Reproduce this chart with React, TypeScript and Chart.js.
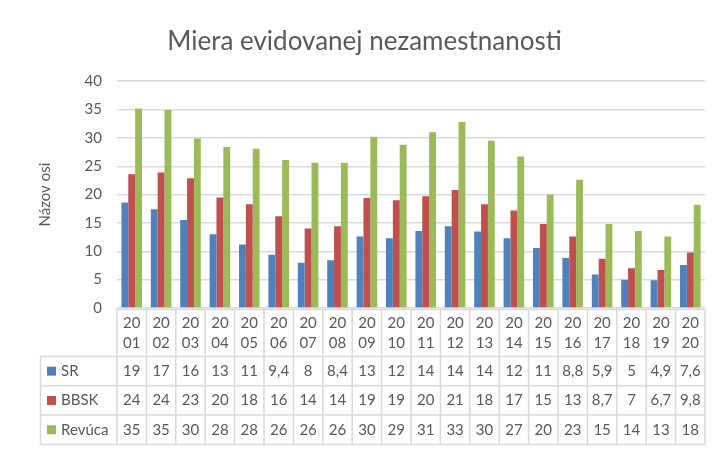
import React, { useEffect, useRef } from "react";
import { Chart, registerables } from "chart.js";

Chart.register(...registerables);

const chartTitle = "Miera evidovanej nezamestnanosti";
const yAxisTitle = "Názov osi";
const years = ["2001", "2002", "2003", "2004", "2005", "2006", "2007", "2008", "2009", "2010", "2011", "2012", "2013", "2014", "2015", "2016", "2017", "2018", "2019", "2020"];
const seriesNames = ["SR", "BBSK", "Revúca"];
const seriesColors = ["#4F81BD", "#C0504D", "#9BBB59"];
const srValues = [18.6, 17.4, 15.5, 13.0, 11.2, 9.4, 8.0, 8.4, 12.6, 12.3, 13.6, 14.4, 13.5, 12.3, 10.6, 8.8, 5.9, 5.0, 4.9, 7.6];
const bbskValues = [23.6, 23.9, 22.9, 19.5, 18.3, 16.2, 14.0, 14.4, 19.4, 19.0, 19.7, 20.8, 18.3, 17.2, 14.8, 12.6, 8.7, 7.0, 6.7, 9.8];
const revucaValues = [35.2, 34.9, 29.9, 28.4, 28.1, 26.1, 25.6, 25.6, 30.2, 28.8, 31.0, 32.8, 29.5, 26.7, 20.0, 22.6, 14.8, 13.6, 12.6, 18.2];
const yTicks = [0, 5, 10, 15, 20, 25, 30, 35, 40];

const FONT = "Lato";
const TEXT = "#595959";
const GRID = "#d9d9d9";

const allSeries = [srValues, bbskValues, revucaValues];

function fmt(v: number): string {
  if (v >= 10) return String(Math.round(v));
  const r = Math.round(v * 10) / 10;
  return (Number.isInteger(r) ? String(r) : r.toFixed(1)).replace(".", ",");
}

const tablePlugin = {
  id: "dataTable",
  afterDraw(chart: any) {
    const ctx = chart.ctx as CanvasRenderingContext2D;
    const xs = chart.scales.x;
    const area = chart.chartArea;
    const n = years.length;
    const colW = (area.right - area.left) / n;
    const top = area.bottom + 1.5;
    const headerH = 47;
    const rowH = 29.3;
    const legendLeft = 40.5;
    const bottom = top + headerH + rowH * 3;
    ctx.save();
    ctx.strokeStyle = GRID;
    ctx.lineWidth = 1.5;
    ctx.beginPath();
    ctx.moveTo(area.left, top);
    ctx.lineTo(area.right, top);
    for (let r = 0; r <= 3; r++) {
      const y = top + headerH + r * rowH;
      ctx.moveTo(legendLeft, y);
      ctx.lineTo(area.right, y);
    }
    for (let i = 0; i <= n; i++) {
      const x = area.left + i * colW;
      ctx.moveTo(x, top);
      ctx.lineTo(x, bottom);
    }
    ctx.moveTo(legendLeft, top + headerH);
    ctx.lineTo(legendLeft, bottom);
    ctx.stroke();

    ctx.fillStyle = TEXT;
    ctx.font = `15px ${FONT}`;
    ctx.textAlign = "center";
    ctx.textBaseline = "middle";
    for (let i = 0; i < n; i++) {
      const cx = xs.getPixelForTick(i);
      ctx.fillText(years[i].slice(0, 2), cx, top + 14);
      ctx.fillText(years[i].slice(2), cx, top + 34);
      for (let s = 0; s < allSeries.length; s++) {
        const cy = top + headerH + rowH * s + rowH / 2;
        ctx.fillText(fmt(allSeries[s][i]), cx, cy);
      }
    }
    ctx.textAlign = "left";
    for (let s = 0; s < seriesNames.length; s++) {
      const cy = top + headerH + rowH * s + rowH / 2;
      ctx.fillStyle = seriesColors[s];
      ctx.fillRect(47, cy - 4.5, 9, 9);
      ctx.fillStyle = TEXT;
      ctx.fillText(seriesNames[s], 61, cy);
    }
    ctx.restore();
  },
};

export default function App() {
  const ref = useRef<HTMLCanvasElement | null>(null);
  useEffect(() => {
    if (!ref.current) return;
    const chart = new Chart(ref.current, {
      type: "bar",
      data: {
        labels: years,
        datasets: allSeries.map((d, i) => ({
          label: seriesNames[i],
          data: d,
          backgroundColor: seriesColors[i],
          borderWidth: 0,
          categoryPercentage: 0.7,
          barPercentage: 1.0,
        })),
      },
      options: {
        animation: false,
        responsive: true,
        maintainAspectRatio: false,
        layout: { padding: { left: 24, right: 10, top: 0, bottom: 0 } },
        plugins: {
          legend: { display: false },
          tooltip: { enabled: false },
          title: {
            display: true,
            text: chartTitle,
            color: TEXT,
            font: { family: FONT, size: 26, weight: "normal" },
            padding: { top: 26, bottom: 24 },
          },
        },
        scales: {
          x: {
            grid: { display: false },
            border: { display: false },
            ticks: { display: false },
            afterFit: (scale: any) => {
              scale.height = 142;
            },
          },
          y: {
            min: 0,
            max: 40,
            afterBuildTicks: (scale: any) => {
              scale.ticks = yTicks.map((v) => ({ value: v }));
            },
            grid: { color: GRID, lineWidth: 1.5, drawTicks: false },
            border: { display: false },
            ticks: {
              color: TEXT,
              font: { family: FONT, size: 15 },
              padding: 15,
            },
            title: {
              display: true,
              text: yAxisTitle,
              color: TEXT,
              font: { family: FONT, size: 15 },
              padding: { top: 12, bottom: 0 },
            },
            afterFit: (scale: any) => {
              scale.width = 93;
            },
          },
        },
      },
      plugins: [tablePlugin],
    });
    return () => chart.destroy();
  }, []);
  return (
    <div style={{ position: "absolute", left: 0, top: 0, width: 715, height: 450, background: "#fff" }}>
      <canvas ref={ref} />
    </div>
  );
}
